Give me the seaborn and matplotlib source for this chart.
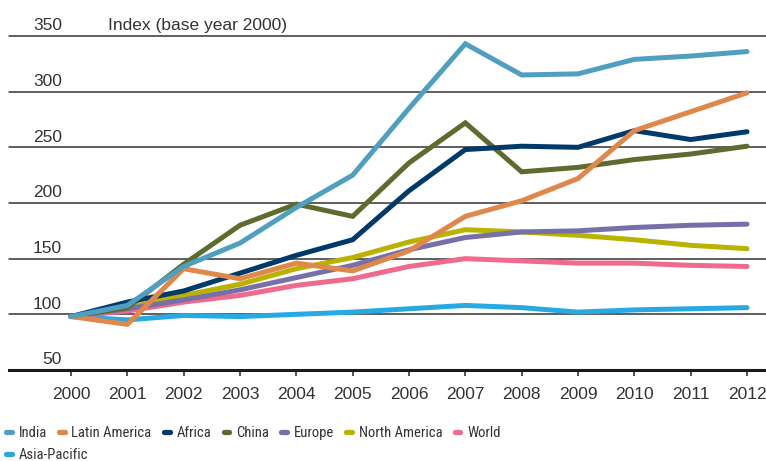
import numpy as np
import pandas as pd
import matplotlib
matplotlib.use("Agg")
import matplotlib.pyplot as plt
from matplotlib import font_manager
from matplotlib.lines import Line2D
import seaborn as sns

# Dados (índice, ano base 2000)
anos = list(range(2000, 2013))
india = [98, 108, 143, 164, 196, 225, 285, 343, 315, 316, 329, 332, 336]
latin_america = [98, 91, 141, 132, 146, 139, 157, 188, 202, 222, 265, 282, 299]
africa = [98, 111, 121, 137, 153, 167, 211, 248, 251, 250, 265, 257, 264]
china = [98, 106, 145, 180, 199, 188, 236, 272, 228, 232, 239, 244, 251]
europe = [98, 105, 113, 122, 133, 144, 158, 169, 174, 175, 178, 180, 181]
north_america = [98, 106, 117, 127, 141, 151, 165, 176, 174, 171, 167, 162, 159]
world = [98, 103, 111, 117, 126, 132, 143, 150, 148, 146, 146, 144, 143]
asia_pacific = [98, 95, 99, 98, 100, 102, 105, 108, 106, 102, 104, 105, 106]

series = {
    'India': india,
    'Latin America': latin_america,
    'Africa': africa,
    'China': china,
    'Europe': europe,
    'North America': north_america,
    'World': world,
    'Asia-Pacific': asia_pacific,
}
cores = {
    'India': '#4f9fc0',
    'Latin America': '#e0874a',
    'Africa': '#003a6b',
    'China': '#5e6b2f',
    'Europe': '#7770a8',
    'North America': '#b9b300',
    'World': '#ef6a8c',
    'Asia-Pacific': '#27aae1',
}
yticks = [50, 100, 150, 200, 250, 300, 350]
titulo = 'Index (base year 2000)'

df = pd.DataFrame([
    {'ano': a, 'regiao': nome, 'valor': v}
    for nome, vals in series.items() for a, v in zip(anos, vals)
])

sns.set_style("white")
plt.rcParams['font.family'] = ['Liberation Sans', 'DejaVu Sans']
cor_texto = '#333333'

# Fonte estreita para a legenda, se existir
nomes_fontes = {f.name for f in font_manager.fontManager.ttflist}
fonte_legenda, tam_legenda = 'Liberation Sans', 9.5
for cand in ['Liberation Sans Narrow', 'Roboto Condensed', 'Open Sans Condensed']:
    if cand in nomes_fontes:
        fonte_legenda, tam_legenda = cand, 10.5
        break

fig = plt.figure(figsize=(7.66, 4.61), dpi=100)
ax = fig.add_axes([9 / 766, 1 - 370 / 461, 757 / 766, (370 - 36) / 461])

# Linhas de grade
for t in yticks[1:]:
    ax.axhline(t, color='#333333', lw=1.1, zorder=1, clip_on=False)

sns.lineplot(data=df, x='ano', y='valor', hue='regiao', palette=cores,
             hue_order=list(series.keys())[::-1], linewidth=3.6, ax=ax,
             legend=False, zorder=3, clip_on=False)
for ln in ax.lines:
    ln.set_solid_capstyle('round')
    ln.set_solid_joinstyle('miter')

passo = (747 - 71) / 12
ax.set_xlim(2000 - 62 / passo, 2012 + 19 / passo)
ax.set_ylim(50, 350)
for s in ['top', 'right', 'left']:
    ax.spines[s].set_visible(False)
ax.spines['bottom'].set_color('#1a1a1a')
ax.spines['bottom'].set_linewidth(2.2)

ax.set_xticks(anos)
ax.set_xticklabels([str(a) for a in anos], fontsize=12.5, color=cor_texto)
ax.tick_params(axis='x', length=4, width=1.2, color='#333333', pad=8, bottom=True)
ax.set_yticks([])
ax.set_xlabel('')
ax.set_ylabel('')

# Rótulos do eixo y acima das linhas
for t in yticks:
    ax.text(53 / 757, t + 2.5, str(t), transform=ax.get_yaxis_transform(),
            ha='right', va='bottom', fontsize=12.5, color=cor_texto)
ax.text(99 / 757, 352.5, titulo, transform=ax.get_yaxis_transform(),
        ha='left', va='bottom', fontsize=12.5, color=cor_texto)

# Legenda em duas linhas
def alca(nome):
    return Line2D([0], [0], color=cores[nome], lw=3.8, solid_capstyle='round')

nomes = list(series.keys())
kw = dict(frameon=False, handlelength=0.4, handletextpad=0.45, columnspacing=0.85,
          borderaxespad=0, borderpad=0,
          prop={'family': fonte_legenda, 'size': tam_legenda}, labelcolor=cor_texto)
leg1 = fig.legend([alca(n) for n in nomes[:7]], nomes[:7], ncol=7,
                  loc='center left', bbox_to_anchor=(6 / 766, 1 - 433 / 461), **kw)
leg2 = fig.legend([alca(n) for n in nomes[7:]], nomes[7:], ncol=1,
                  loc='center left', bbox_to_anchor=(6 / 766, 1 - 455 / 461), **kw)

fig.savefig('out.png', dpi=100)
